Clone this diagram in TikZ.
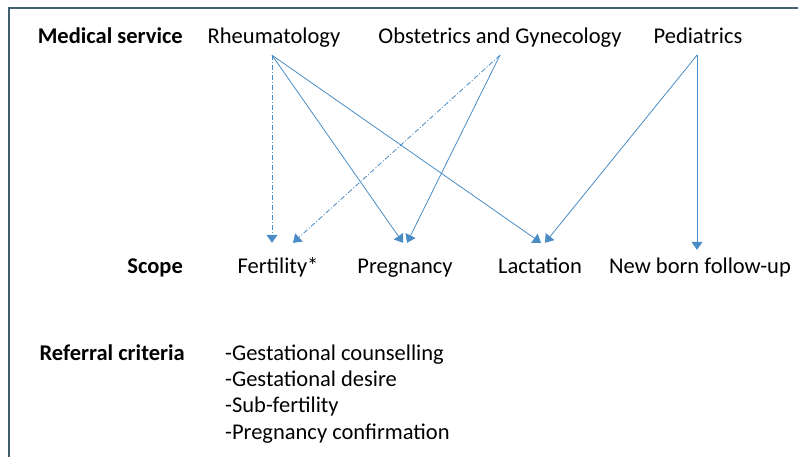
\documentclass[tikz,border=0pt]{standalone}
\usepackage{fontspec}
\setmainfont{Carlito}
\usetikzlibrary{arrows.meta}
\definecolor{framec}{HTML}{41606F}
\definecolor{arrowc}{HTML}{4A8CC6}
\tikzset{
  lbl/.style={font=\fontsize{22.5}{27}\selectfont, inner sep=0pt, anchor=base},
  head/.style={lbl, font=\fontsize{22.5}{27}\selectfont\bfseries, anchor=base east},
  serv/.style={lbl, text depth=11.5pt},
  scp/.style={lbl, text height=30pt},
  link/.style={draw=arrowc, line width=.8pt, -{Triangle[width=11pt,length=8pt]}},
  dlink/.style={link, dash pattern=on 5pt off 2pt on 1pt off 2pt}
}
\begin{document}
\begin{tikzpicture}[x=1pt, y=-1pt]
        \useasboundingbox (0, 0) rectangle (798, 457);
        %%frame
        \draw[framec, line width=2.2pt] (9, 457) to (9, 8) to (798, 8);

        %%services
        \node[head] (hserv) at (183, 43.5){Medical service};
        \node[serv] (rheu) at (274, 43.5){Rheumatology};
        \node[serv] (obgy) at (500, 43.5){Obstetrics and Gynecology};
        \node[serv] (pedi) at (698, 43.5){Pediatrics};

        %%scope
        \node[head] (hscope) at (183, 273){Scope};
        \node[scp] (fert) at (278, 273){Fertility*};
        \node[scp] (preg) at (405, 273){Pregnancy};
        \node[scp] (lact) at (540, 273){Lactation};
        \node[scp] (newb) at (700, 273){New born follow-up};

        %%criteria (base = last line)
        \node[head] (hcrit) at (185, 360){Referral criteria};
        \node[lbl, anchor=base west, align=left, font=\fontsize{22.5}{26.3}\selectfont]
          (crit) at (225, 439){-Gestational counselling\\-Gestational desire\\-Sub-fertility\\-Pregnancy confirmation};

        %%rheumatology
        \draw[dlink] ([xshift=-2pt]rheu.south) to ([xshift=-6pt]fert.north);
        \draw[link] ([xshift=-2pt]rheu.south) to ([xshift=-2pt]preg.north);
        \draw[link] ([xshift=-2pt]rheu.south) to ([xshift=1pt]lact.north);

        %%obstetrics
        \draw[dlink] (obgy.south) to ([xshift=15pt]fert.north);
        \draw[link] (obgy.south) to ([xshift=2pt]preg.north);

        %%pediatrics
        \draw[link] ([xshift=-1pt]pedi.south) to ([xshift=5pt]lact.north);
        \draw[link] ([xshift=-1pt]pedi.south) to ([xshift=-3pt, yshift=-7pt]newb.north);
\end{tikzpicture}
\end{document}
